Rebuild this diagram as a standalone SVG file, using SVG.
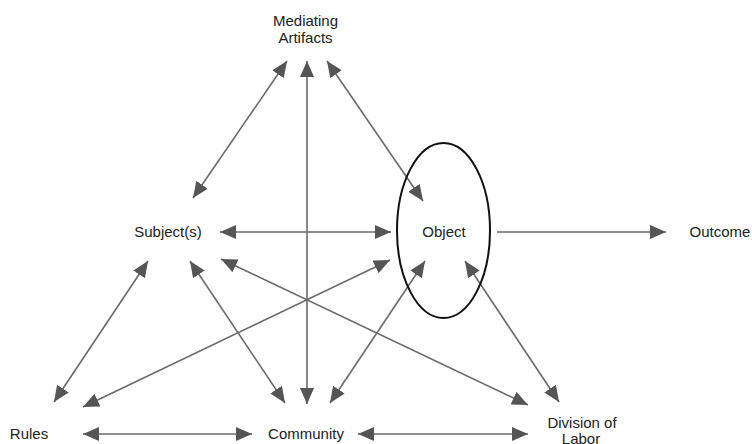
<svg xmlns="http://www.w3.org/2000/svg" width="752" height="444" viewBox="0 0 752 444">
<style>
.lbl{font-family:"Liberation Sans",Arial,sans-serif;font-size:15px;fill:#222;text-anchor:middle}
.c line{stroke:#6a6a6a;stroke-width:1.6;fill:none;marker-end:url(#ah)}
.c line.d{marker-start:url(#ah)}
</style>
<defs>
<marker id="ah" markerUnits="userSpaceOnUse" markerWidth="16" markerHeight="14" refX="16" refY="7" orient="auto-start-reverse" viewBox="0 0 16 14">
<path d="M0,0 L16,7 L0,14 z" fill="#555"/>
</marker>
</defs>
<rect width="752" height="444" fill="#fff"/>
<g id="connectors" class="c">
<line class="d" x1="287" y1="61" x2="193" y2="198"/>
<line class="d" x1="307" y1="61" x2="307" y2="404"/>
<line class="d" x1="327" y1="61" x2="423" y2="201"/>
<line class="d" x1="220" y1="232" x2="391" y2="232"/>
<line x1="497" y1="232" x2="666" y2="232"/>
<line class="d" x1="148" y1="261" x2="54" y2="402"/>
<line class="d" x1="190" y1="261" x2="285" y2="403"/>
<line class="d" x1="221" y1="259" x2="528" y2="405"/>
<line class="d" x1="83" y1="407" x2="390" y2="260"/>
<line class="d" x1="330" y1="403" x2="425" y2="261"/>
<line class="d" x1="465" y1="261" x2="559" y2="402"/>
<line class="d" x1="83" y1="434" x2="252" y2="434"/>
<line class="d" x1="358" y1="434" x2="528" y2="434"/>
</g>
<g id="object-ellipse"><ellipse cx="443.5" cy="230.5" rx="46.5" ry="87.5" fill="none" stroke="#111" stroke-width="2"/></g>
<g id="mediating"><text class="lbl" x="305.5" y="26">Mediating</text><text class="lbl" x="305.5" y="43">Artifacts</text></g>
<g id="subject"><text class="lbl" x="168" y="237">Subject(s)</text></g>
<g id="object"><text class="lbl" x="444" y="237">Object</text></g>
<g id="outcome"><text class="lbl" x="720" y="237">Outcome</text></g>
<g id="rules"><text class="lbl" x="29" y="439">Rules</text></g>
<g id="community"><text class="lbl" x="306" y="439">Community</text></g>
<g id="division"><text class="lbl" x="582" y="428">Division of</text><text class="lbl" x="581" y="444">Labor</text></g>
</svg>
